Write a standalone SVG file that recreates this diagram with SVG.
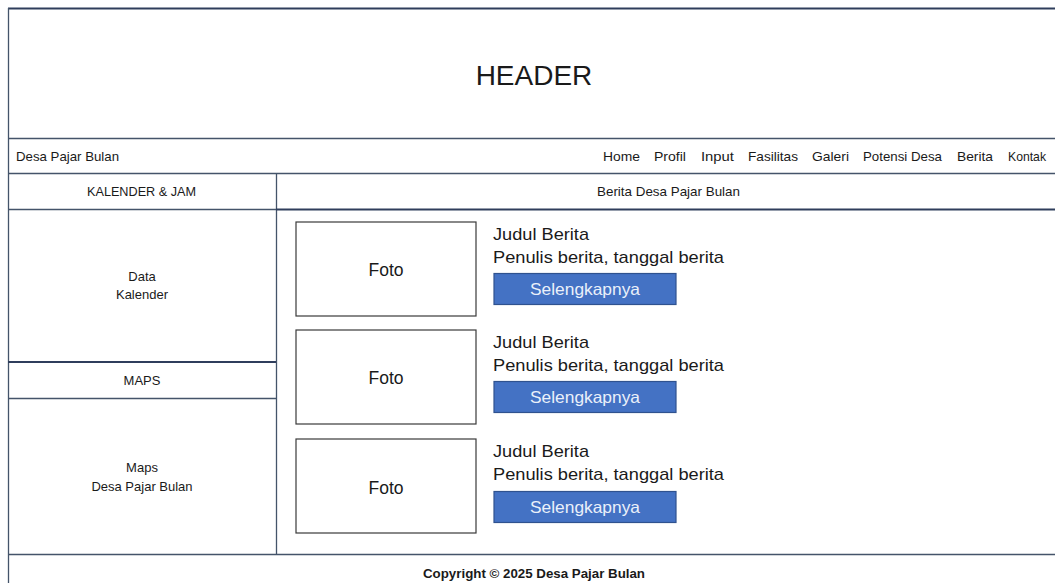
<svg xmlns="http://www.w3.org/2000/svg" width="1055" height="583" viewBox="0 0 1055 583">
<style>
.ln{stroke:#44546A;stroke-width:1.3;fill:none}
.lt{stroke:#2F3E5C;stroke-width:2;fill:none}
.t{font-family:"Liberation Sans",Arial,sans-serif;fill:#1a1a1a}
.foto{fill:#fff;stroke:#3a3a3a;stroke-width:1.2}
.btn{fill:#4472C4;stroke:#2F528F;stroke-width:1.2}
.bt{font-family:"Liberation Sans",Arial,sans-serif;fill:#EAF0FA;font-size:16.5px}
</style>
<rect width="1055" height="583" fill="#fff"/>
<g id="frame">
<line class="lt" x1="8" y1="8.5" x2="1055" y2="8.5"/>
<line class="ln" x1="8.5" y1="8" x2="8.5" y2="583"/>
<line class="ln" x1="8" y1="138.5" x2="1055" y2="138.5"/>
<line class="ln" x1="8" y1="173.5" x2="1055" y2="173.5"/>
<line class="ln" x1="276.5" y1="173" x2="276.5" y2="554"/>
<line class="ln" x1="8" y1="209.5" x2="276" y2="209.5"/>
<line class="lt" x1="276" y1="209.5" x2="1055" y2="209.5"/>
<line class="lt" x1="8" y1="362" x2="276" y2="362"/>
<line class="ln" x1="8" y1="398.5" x2="276" y2="398.5"/>
<line class="ln" x1="8" y1="554.5" x2="1055" y2="554.5"/>
</g>
<g id="header"><text class="t" x="534" y="85" font-size="28" text-anchor="middle">HEADER</text></g>
<g id="nav" class="t" font-size="13" lengthAdjust="spacingAndGlyphs">
<text x="16" y="161" textLength="103" lengthAdjust="spacingAndGlyphs">Desa Pajar Bulan</text>
<text x="603" y="161" textLength="37" lengthAdjust="spacingAndGlyphs">Home</text>
<text x="654" y="161" textLength="32" lengthAdjust="spacingAndGlyphs">Profil</text>
<text x="701" y="161" textLength="33" lengthAdjust="spacingAndGlyphs">Input</text>
<text x="748" y="161" textLength="50" lengthAdjust="spacingAndGlyphs">Fasilitas</text>
<text x="812" y="161" textLength="37" lengthAdjust="spacingAndGlyphs">Galeri</text>
<text x="863" y="161" textLength="79" lengthAdjust="spacingAndGlyphs">Potensi Desa</text>
<text x="957" y="161" textLength="36" lengthAdjust="spacingAndGlyphs">Berita</text>
<text x="1008" y="161" textLength="38" lengthAdjust="spacingAndGlyphs">Kontak</text>
</g>
<g id="kalender-title"><text class="t" x="87" y="196" font-size="13" textLength="109" lengthAdjust="spacingAndGlyphs">KALENDER &amp; JAM</text></g>
<g id="berita-title"><text class="t" x="597" y="196" font-size="13" textLength="143" lengthAdjust="spacingAndGlyphs">Berita Desa Pajar Bulan</text></g>
<g id="kalender"><text class="t" x="142" y="281" font-size="13" text-anchor="middle">Data</text><text class="t" x="142" y="299" font-size="13" text-anchor="middle">Kalender</text></g>
<g id="maps-title"><text class="t" x="142" y="385" font-size="13" text-anchor="middle">MAPS</text></g>
<g id="maps"><text class="t" x="142" y="472" font-size="13" text-anchor="middle">Maps</text><text class="t" x="142" y="491" font-size="13" text-anchor="middle">Desa Pajar Bulan</text></g>
<g id="news1">
<rect class="foto" x="296" y="222" width="180" height="94"/>
<text class="t" x="386" y="276" font-size="17.5" text-anchor="middle">Foto</text>
<text class="t" x="493" y="240" font-size="17" textLength="96" lengthAdjust="spacingAndGlyphs">Judul Berita</text>
<text class="t" x="493" y="263" font-size="17" textLength="231" lengthAdjust="spacingAndGlyphs">Penulis berita, tanggal berita</text>
<rect class="btn" x="494" y="273.5" width="182" height="31"/>
<text class="bt" x="530" y="295" textLength="110" lengthAdjust="spacingAndGlyphs">Selengkapnya</text>
</g>
<g id="news2">
<rect class="foto" x="296" y="330" width="180" height="94"/>
<text class="t" x="386" y="384" font-size="17.5" text-anchor="middle">Foto</text>
<text class="t" x="493" y="348" font-size="17" textLength="96" lengthAdjust="spacingAndGlyphs">Judul Berita</text>
<text class="t" x="493" y="371" font-size="17" textLength="231" lengthAdjust="spacingAndGlyphs">Penulis berita, tanggal berita</text>
<rect class="btn" x="494" y="381.5" width="182" height="31"/>
<text class="bt" x="530" y="403" textLength="110" lengthAdjust="spacingAndGlyphs">Selengkapnya</text>
</g>
<g id="news3">
<rect class="foto" x="296" y="439" width="180" height="94"/>
<text class="t" x="386" y="494" font-size="17.5" text-anchor="middle">Foto</text>
<text class="t" x="493" y="457" font-size="17" textLength="96" lengthAdjust="spacingAndGlyphs">Judul Berita</text>
<text class="t" x="493" y="480" font-size="17" textLength="231" lengthAdjust="spacingAndGlyphs">Penulis berita, tanggal berita</text>
<rect class="btn" x="494" y="491.5" width="182" height="31"/>
<text class="bt" x="530" y="513" textLength="110" lengthAdjust="spacingAndGlyphs">Selengkapnya</text>
</g>
<g id="footer"><text class="t" x="423" y="578" font-size="13" font-weight="bold" textLength="222" lengthAdjust="spacingAndGlyphs">Copyright © 2025 Desa Pajar Bulan</text></g>
</svg>
